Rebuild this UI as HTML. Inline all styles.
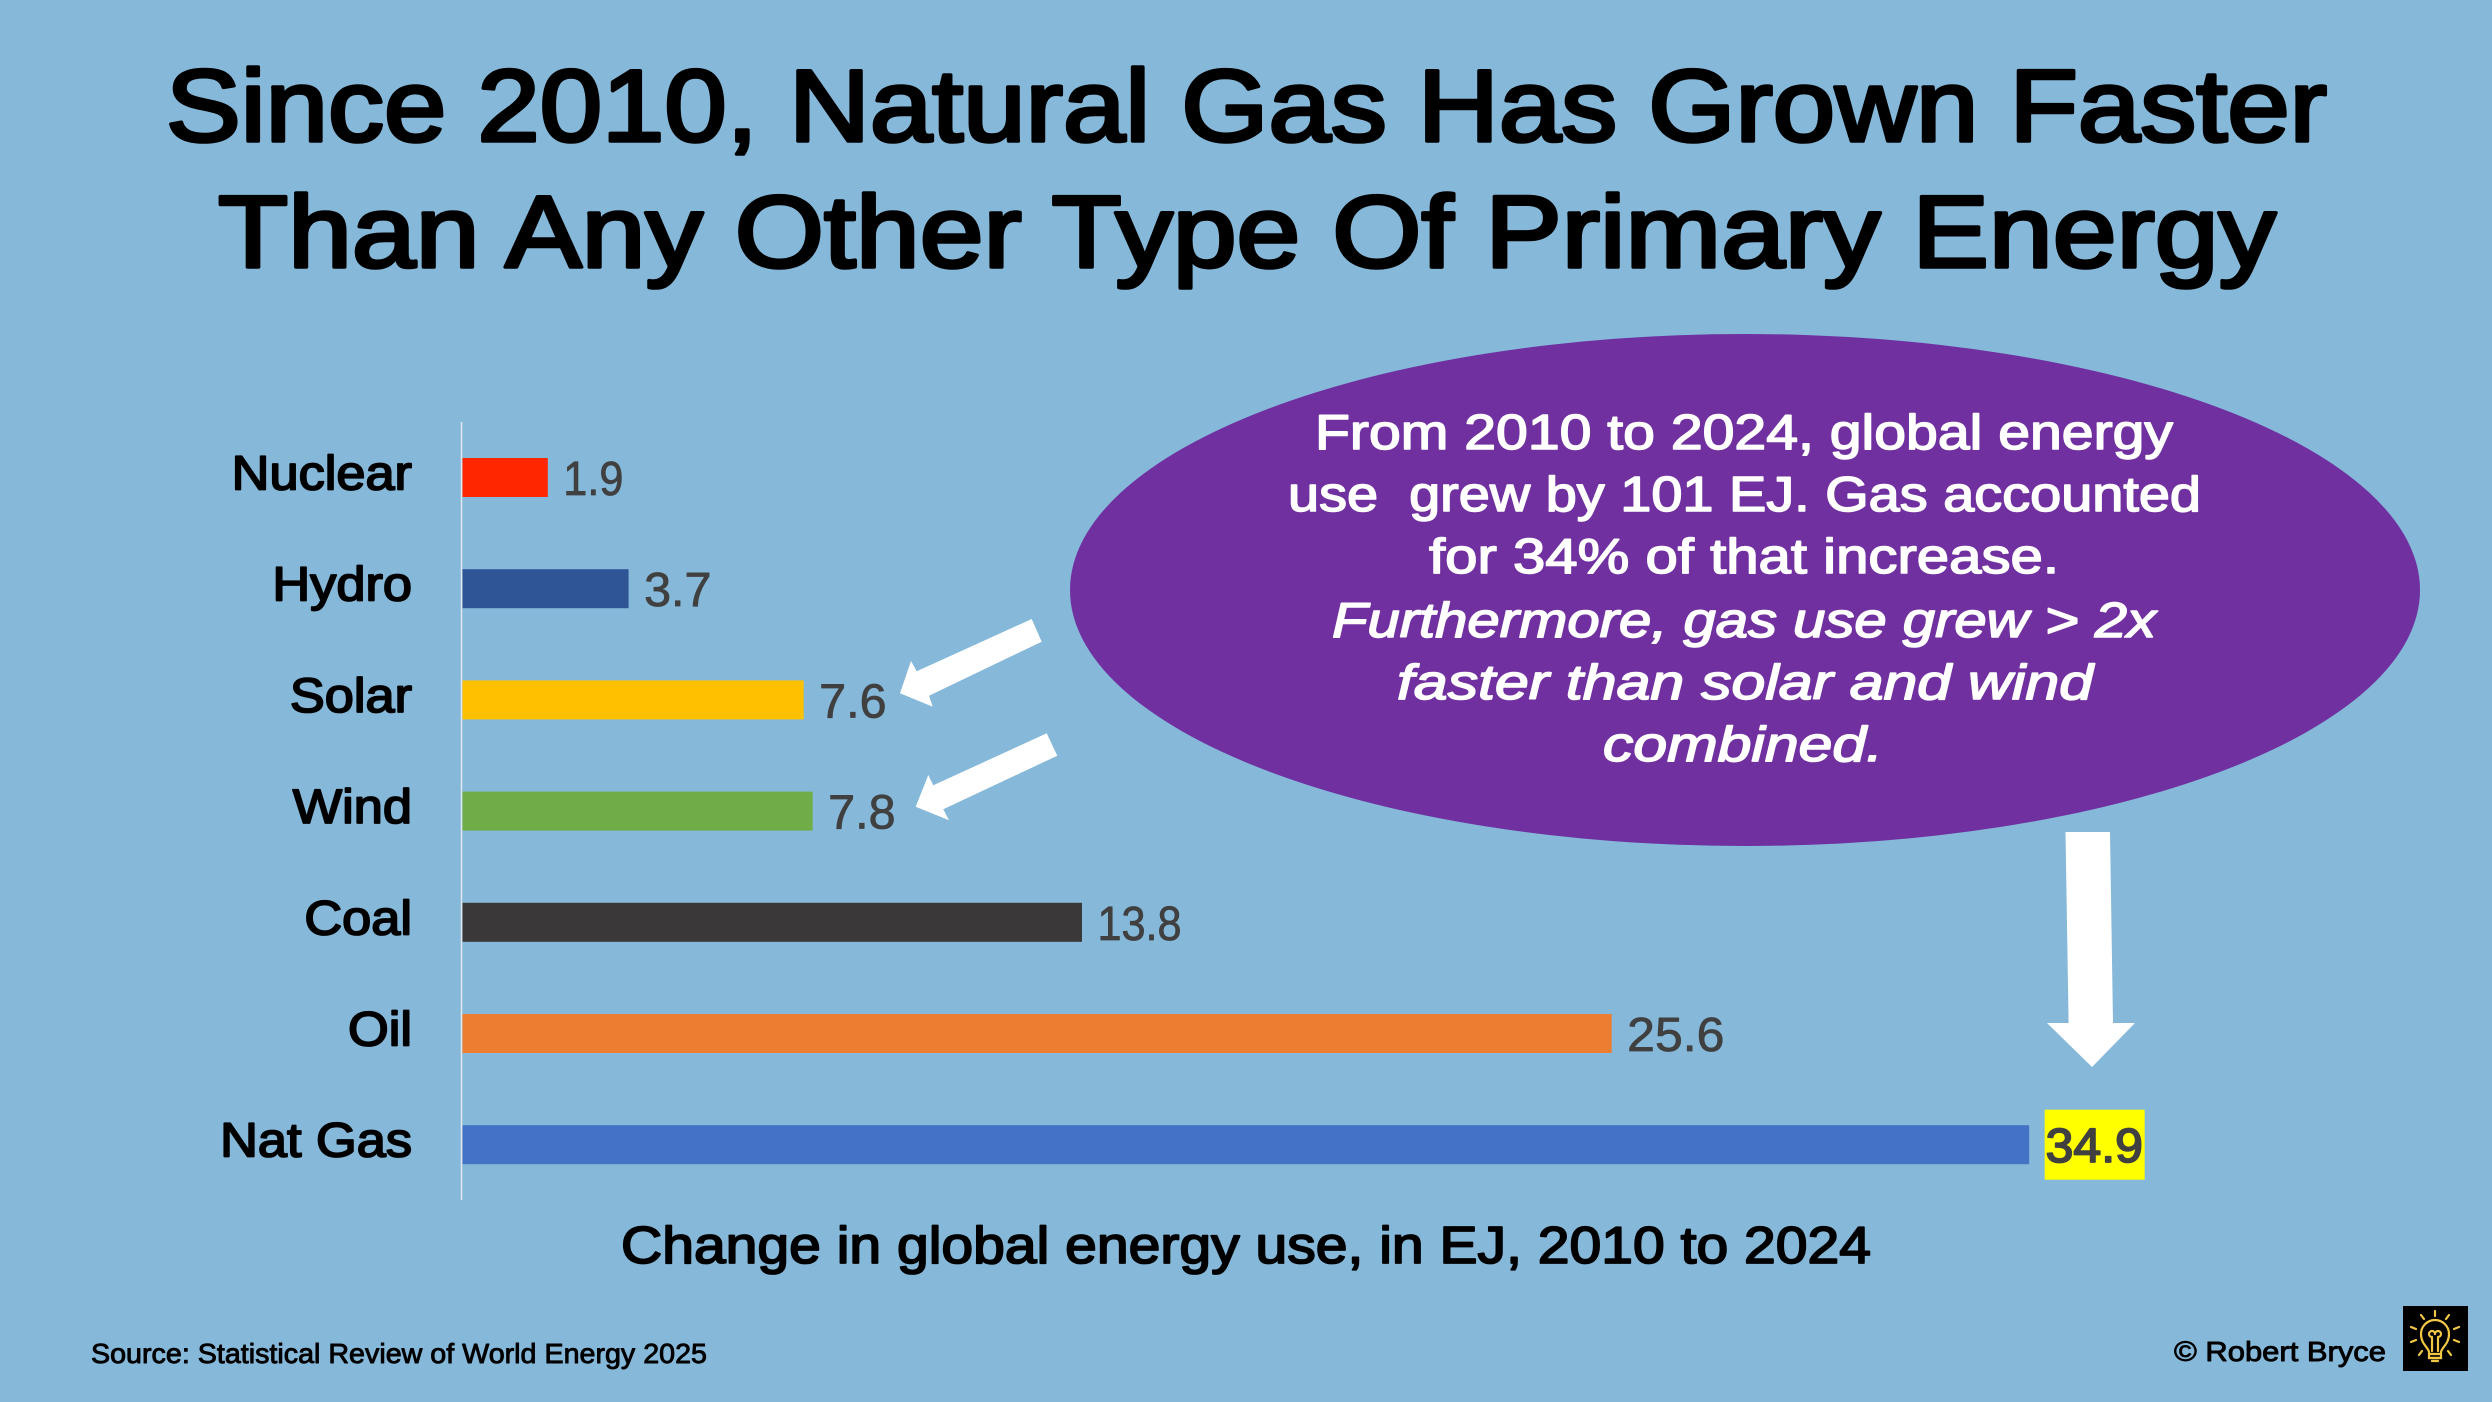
<!DOCTYPE html>
<html lang="en">
<head>
<meta charset="utf-8">
<title>Change in global energy use, 2010 to 2024</title>
<style>
  html, body { margin: 0; padding: 0; background: #85b8d9; }
  svg { display: block; font-family: "Liberation Sans", sans-serif; }
  .med { stroke-linejoin: round; paint-order: stroke; }
</style>
</head>
<body>
<svg id="slide" xmlns="http://www.w3.org/2000/svg" width="2492" height="1402" viewBox="0 0 2492 1402">
  <rect x="0" y="0" width="2492" height="1402" fill="#85b8d9"/>

  <g font-size="102" fill="#000" stroke="#000" stroke-width="3.6" class="med">
    <text x="166" y="141" textLength="2161" lengthAdjust="spacingAndGlyphs">Since 2010, Natural Gas Has Grown Faster</text>
    <text x="218" y="267" textLength="2058" lengthAdjust="spacingAndGlyphs">Than Any Other Type Of Primary Energy</text>
  </g>

  <ellipse cx="1745" cy="590" rx="675" ry="256" fill="#7030a0"/>
  <g font-size="49" fill="#fff" stroke="#fff" stroke-width="1.5" class="med">
    <text x="1315" y="449" textLength="858" lengthAdjust="spacingAndGlyphs">From 2010 to 2024, global energy</text>
    <text x="1288" y="511" textLength="913" lengthAdjust="spacingAndGlyphs" xml:space="preserve">use  grew by 101 EJ. Gas accounted</text>
    <text x="1429" y="573" textLength="630" lengthAdjust="spacingAndGlyphs">for 34% of that increase.</text>
    <text x="1332" y="637" textLength="824" lengthAdjust="spacingAndGlyphs" font-style="italic">Furthermore, gas use grew &gt; 2x</text>
    <text x="1397" y="699" textLength="696" lengthAdjust="spacingAndGlyphs" font-style="italic">faster than solar and wind</text>
    <text x="1603" y="761" textLength="280" lengthAdjust="spacingAndGlyphs" font-style="italic">combined.</text>
  </g>

  <g id="plot"></g>

  <polygon fill="#fff" points="1031.7,619 1041.7,641.7 929,695.7 932.7,706.7 900,693.3 911,661 916.7,671.3"/>
  <polygon fill="#fff" points="1046.7,733.3 1057.3,755.7 943.3,809.3 949,820.3 915.7,806.7 928.3,775 933.3,785.3"/>
  <polygon fill="#fff" points="2065.5,832 2110,832 2113,1023 2135,1023 2092,1067 2047,1023 2068.6,1023"/>

  <text x="621" y="1263" font-size="52" fill="#000" stroke="#000" stroke-width="1.8" class="med" textLength="1250" lengthAdjust="spacingAndGlyphs">Change in global energy use, in EJ, 2010 to 2024</text>
  <text x="91" y="1363" font-size="28" fill="#000" stroke="#000" stroke-width="0.9" class="med" textLength="616" lengthAdjust="spacingAndGlyphs">Source: Statistical Review of World Energy 2025</text>
  <text x="2174" y="1361" font-size="28" fill="#000" stroke="#000" stroke-width="0.9" class="med" textLength="212" lengthAdjust="spacingAndGlyphs">© Robert Bryce</text>

  <g>
    <rect x="2403" y="1306" width="65" height="65" fill="#000"/>
    <g fill="none" stroke="#f2c744" stroke-width="2.2" stroke-linecap="round">
      <path d="M2429 1358 L2429 1352 C2428 1347 2421 1344 2421 1334 A14 14 0 1 1 2449 1334 C2449 1344 2442 1347 2441 1352 L2441 1358 Z"/>
      <path d="M2432 1351 V1338 M2438 1351 V1338 M2432 1337 A3 3 0 1 1 2435 1334 M2438 1337 A3 3 0 1 0 2435 1334 M2429 1354 H2441 M2429 1358 H2441 M2432 1361 H2438"/>
      <path d="M2435 1311 V1316 M2421 1315 L2424 1319 M2449 1315 L2446 1319 M2411 1327 L2416 1329 M2459 1327 L2454 1329 M2411 1342 L2416 1340 M2459 1342 L2454 1340 M2419 1355 L2422 1351 M2451 1355 L2448 1351"/>
    </g>
  </g>
</svg>
<script>
// Chart data
const categories = ["Nuclear", "Hydro", "Solar", "Wind", "Coal", "Oil", "Nat Gas"];
const changeEJ = [1.9, 3.7, 7.6, 7.8, 13.8, 25.6, 34.9];
const printedValues = ["1.9", "3.7", "7.6", "7.8", "13.8", "25.6", "34.9"];
const highlightedCategory = "Nat Gas";
const barColors = ["#ff2600", "#2f5597", "#ffc000", "#70ad47", "#3a3838", "#ed7d31", "#4472c4"];

// Axis functions
const SVG_NS = "http://www.w3.org/2000/svg";
const X0 = 462.5, PX_PER_EJ = 44.89;
const Y_FIRST = 477.5, Y_STEP = 111.2, BAR_H = 39;
const xScale = v => X0 + v * PX_PER_EJ;
const yScale = i => Y_FIRST + i * Y_STEP;

const plot = document.getElementById("plot");

function mk(tag, attrs, text) {
  const el = document.createElementNS(SVG_NS, tag);
  for (const k in attrs) el.setAttribute(k, attrs[k]);
  if (text !== undefined) el.textContent = text;
  plot.appendChild(el);
  return el;
}

function squeeze(el, factor) {
  const w = el.getComputedTextLength();
  el.setAttribute("textLength", (w * factor).toFixed(1));
  el.setAttribute("lengthAdjust", "spacingAndGlyphs");
}

const axis = mk("line", { x1: 461.5, x2: 461.5, y1: 422, y2: 1200, stroke: "#e3e8ec", "stroke-width": 1.5 });



categories.forEach((cat, i) => {
  const cy = yScale(i);
  const v = changeEJ[i];

  const bar = mk("rect", { x: X0, y: cy - BAR_H / 2, width: xScale(v) - X0, height: BAR_H, fill: barColors[i] });
  
  

  const label = mk("text", {
    x: 412, y: cy + 12, "text-anchor": "end", "font-size": 48, fill: "#000", stroke: "#000",
    "stroke-width": 1.8, class: "med"
  }, cat);
  
  
  squeeze(label, 1.09);

  const labelX = xScale(v) + 15.5;
  const isHighlighted = cat === highlightedCategory;
  if (isHighlighted) {
    const box = mk("rect", { x: labelX, y: cy - 35, width: 100, height: 70, fill: "#ffff00" });
    
    
  }
  const value = mk("text", {
    x: labelX + (isHighlighted ? 1 : 0), y: cy + 17.5, "font-size": 48, fill: "#404040",
    stroke: "#404040", "stroke-width": isHighlighted ? 1.8 : 0.8, class: "med"
  }, printedValues[i]);
  
  
  const ones = printedValues[i].split('1').length - 1;
  squeeze(value, (printedValues[i].length > 3 && !ones ? 1.04 : 1.01) - 0.11 * ones);
});
</script>
</body>
</html>
